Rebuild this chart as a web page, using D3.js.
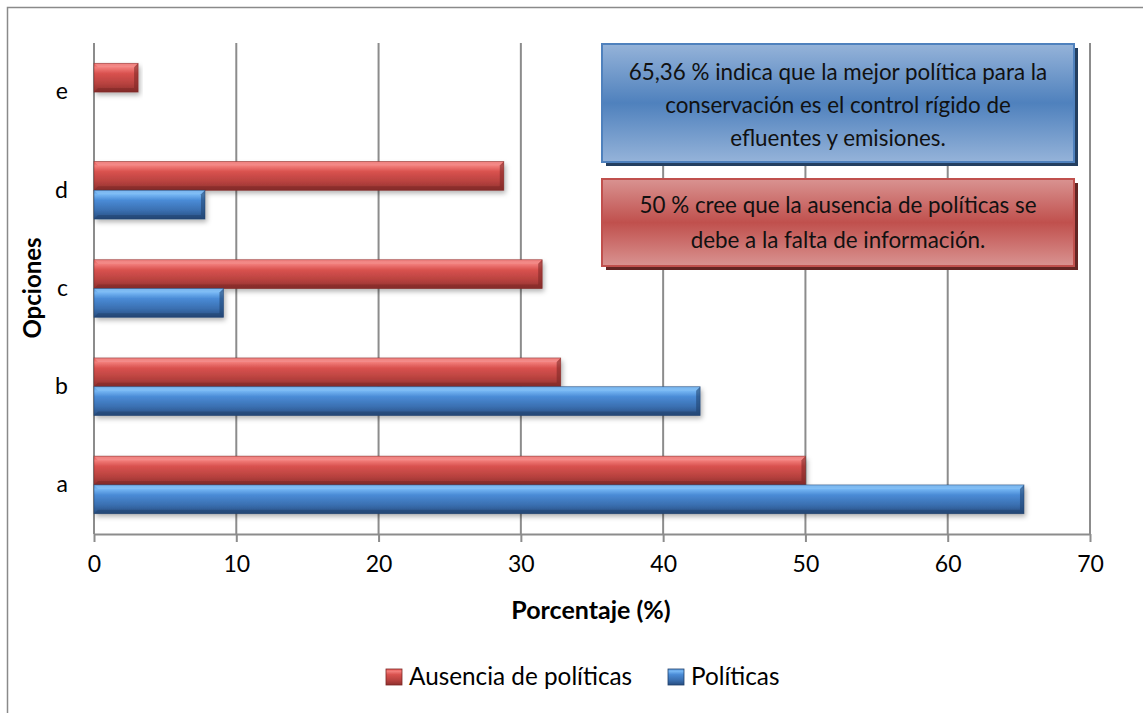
<!DOCTYPE html>
<html><head><meta charset="utf-8">
<script src="https://cdn.jsdelivr.net/npm/d3@7"></script>
<style>
body{margin:0;background:#fff;}
svg{display:block;font-family:Lato,sans-serif;}
</style></head>
<body>
<svg id="c" width="1143" height="713"></svg>
<script>
const categories = ["a","b","c","d","e"];
const seriesNames = ["Ausencia de políticas","Políticas"];
const ausencia = [50, 32.8, 31.5, 28.8, 3.1];
const politicas = [65.36, 42.6, 9.1, 7.8, 0];
const xTicks = [0,10,20,30,40,50,60,70];
const note1 = ["65,36 % indica que la mejor política para la","conservación es el control rígido de","efluentes y emisiones."];
const note2 = ["50 % cree que la ausencia de políticas se","debe a la falta de información."];

(function(){
const FF = "Lato, sans-serif";
const svg = d3.select("#c");
const defs = svg.append("defs");
function grad(id, stops){
  const g = defs.append("linearGradient").attr("id",id).attr("x1",0).attr("y1",0).attr("x2",0).attr("y2",1);
  stops.forEach(s=>g.append("stop").attr("offset",s[0]).attr("stop-color",s[1]));
}
grad("gRed",[[0,"#e85a57"],[0.15,"#f27d7a"],[0.35,"#d9524f"],[0.7,"#b8423f"],[1,"#8f302e"]]);
grad("gBlue",[[0,"#5f9de0"],[0.15,"#74b5f3"],[0.35,"#4a8bd6"],[0.7,"#3a6fb0"],[1,"#274d80"]]);
grad("bBlue",[[0,"#95b3d9"],[0.5,"#4f81bd"],[1,"#95b3d9"]]);
grad("bRed",[[0,"#d99391"],[0.5,"#c0504d"],[1,"#d99391"]]);
const flt = defs.append("filter").attr("id","sh").attr("x","-5%").attr("y","-20%").attr("width","115%").attr("height","160%");
flt.append("feDropShadow").attr("dx",2).attr("dy",3).attr("stdDeviation",2.5).attr("flood-color","#000").attr("flood-opacity",0.3);

svg.append("rect").attr("x",7.5).attr("y",7.5).attr("width",1150).attr("height",720)
  .attr("fill","none").attr("stroke","#8a8a8a").attr("stroke-width",1.5);

const pL=94, pR=1090, pT=43, pB=534;
const x = d3.scaleLinear().domain([0,70]).range([pL,pR]);
const y = d3.scaleBand().domain(categories).range([pB,pT]).paddingInner(0.414).paddingOuter(0.207);
const inner = d3.scaleBand().domain(seriesNames).range([0,y.bandwidth()]);

svg.append("g").selectAll("line").data(xTicks).join("line")
  .attr("x1",d=>x(d)).attr("x2",d=>x(d)).attr("y1",pT).attr("y2",pB)
  .attr("stroke","#8c8c8c").attr("stroke-width",2);

const xa = svg.append("g").attr("transform",`translate(0,${pB})`)
  .call(d3.axisBottom(x).tickValues(xTicks).tickSize(8).tickPadding(14).tickSizeOuter(0));
xa.attr("font-family",FF).attr("font-size",23);
xa.select(".domain").attr("stroke","#8c8c8c").attr("stroke-width",2);
xa.selectAll(".tick line").attr("stroke","#8c8c8c").attr("stroke-width",2);
xa.selectAll("text").attr("fill","#000");

const ya = svg.append("g").attr("transform",`translate(${pL},0)`)
  .call(d3.axisLeft(y).tickSize(0).tickPadding(26));
ya.attr("font-family",FF).attr("font-size",23);
ya.select(".domain").remove();
ya.selectAll("text").attr("fill","#000");

const data = [];
categories.forEach((c,i)=>{
  data.push({cat:c, s:seriesNames[0], v:ausencia[i], g:"url(#gRed)", dark:"#7a2624", light:"#f59a98"});
  data.push({cat:c, s:seriesNames[1], v:politicas[i], g:"url(#gBlue)", dark:"#1f3f6a", light:"#8cc6f8"});
});
const bars = svg.append("g").selectAll("g").data(data.filter(d=>d.v>0)).join("g");
bars.append("rect")
  .attr("x",x(0)).attr("y",d=>y(d.cat)+inner(d.s)).attr("width",d=>x(d.v)-x(0)).attr("height",inner.bandwidth())
  .attr("fill",d=>d.g).attr("filter","url(#sh)");
const bev=4;
bars.append("path").attr("d",d=>{
  const x0=x(0), x1=x(d.v), y0=y(d.cat)+inner(d.s);
  return `M${x0},${y0}L${x1},${y0}L${x1-bev},${y0+bev}L${x0+bev},${y0+bev}Z`;
}).attr("fill",d=>d.light).attr("opacity",0.6);
bars.append("path").attr("d",d=>{
  const x0=x(0), x1=x(d.v), y0=y(d.cat)+inner(d.s), h=inner.bandwidth();
  return `M${x0},${y0+h}L${x1},${y0+h}L${x1-bev},${y0+h-bev}L${x0+bev},${y0+h-bev}Z`;
}).attr("fill",d=>d.dark).attr("opacity",0.5);
bars.append("path").attr("d",d=>{
  const x1=x(d.v), y0=y(d.cat)+inner(d.s), h=inner.bandwidth();
  return `M${x1},${y0}L${x1},${y0+h}L${x1-bev},${y0+h-bev}L${x1-bev},${y0+bev}Z`;
}).attr("fill",d=>d.dark).attr("opacity",0.55);
bars.append("rect")
  .attr("x",x(0)).attr("y",d=>y(d.cat)+inner(d.s)).attr("width",d=>x(d.v)-x(0)).attr("height",inner.bandwidth())
  .attr("fill","none").attr("stroke",d=>d.dark).attr("stroke-width",0.8).attr("stroke-opacity",0.6);

svg.append("text").attr("x",591).attr("y",619).attr("text-anchor","middle")
  .attr("font-size",25).attr("font-weight","bold").text("Porcentaje (%)");
svg.append("text").attr("transform","translate(41,288) rotate(-90)").attr("text-anchor","middle")
  .attr("font-size",24).attr("font-weight","bold").text("Opciones");

function box(x0,y0,w,h,fill,stroke,shadow,lines,lh,ty){
  svg.append("rect").attr("x",x0+4).attr("y",y0+4).attr("width",w).attr("height",h).attr("fill",shadow);
  svg.append("rect").attr("x",x0).attr("y",y0).attr("width",w).attr("height",h).attr("fill",fill)
    .attr("stroke",stroke).attr("stroke-width",2);
  svg.append("g").selectAll("text").data(lines).join("text")
    .attr("x",x0+w/2).attr("y",(d,i)=>ty+i*lh).attr("text-anchor","middle")
    .attr("font-size",22.4).attr("fill","#111").text(d=>d);
}
box(602,44,472,118,"url(#bBlue)","#4f81bd","#243f60",note1,33,80);
box(602,179,472,87,"url(#bRed)","#c0504d","#632523",note2,35,213);

const leg = svg.append("g");
const legItems = [{n:seriesNames[0],x:386,g:"url(#gRed)",s:"#7a2624"},{n:seriesNames[1],x:668,g:"url(#gBlue)",s:"#1f3f6a"}];
legItems.forEach(it=>{
  leg.append("rect").attr("x",it.x).attr("y",669).attr("width",16).attr("height",16).attr("fill",it.g).attr("stroke",it.s).attr("stroke-width",0.8);
  leg.append("text").attr("x",it.x+23).attr("y",685).attr("font-size",24.3).text(it.n);
});
})();
</script>
</body></html>
